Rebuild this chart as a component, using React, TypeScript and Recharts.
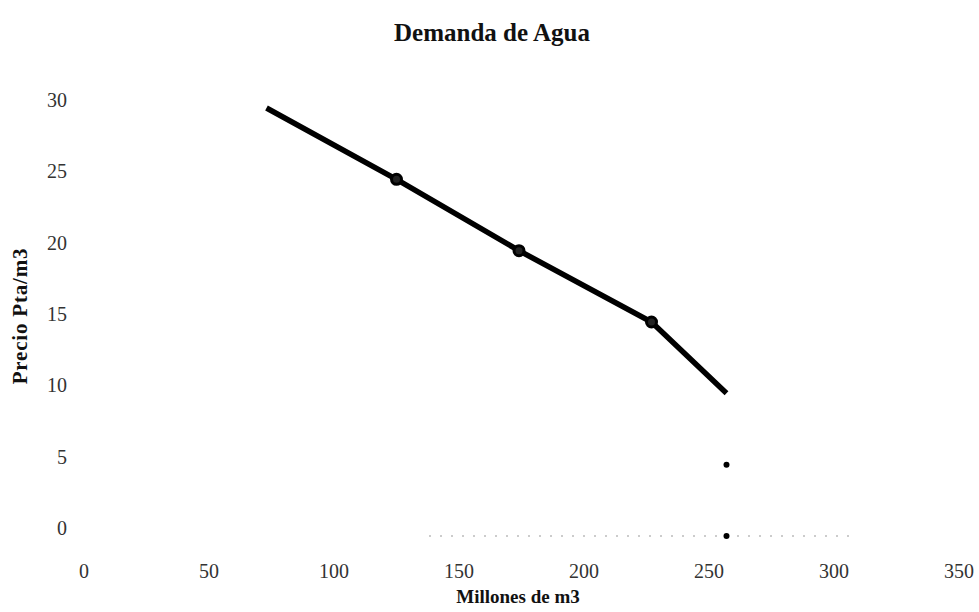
import React from "react"
import { ComposedChart, Line, Scatter, XAxis, YAxis, ReferenceLine } from "recharts"

// demand curve
const cantidades = [73, 125, 174, 227, 257]
const precios = [30, 25, 20, 15, 10]

// loose points under the end of the curve
const sueltosX = [257, 257]
const sueltosY = [5, 0]

const xTicks = [0, 50, 100, 150, 200, 250, 300, 350]
const yTicks = [0, 5, 10, 15, 20, 25, 30]

const titulo = "Demanda de Agua"
const tituloX = "Millones de m3"
const tituloY = "Precio Pta/m3"

const curva = cantidades.map((x, i) => ({ x, y: precios[i] }))
const sueltos = sueltosX.map((x, i) => ({ x, y: sueltosY[i] }))

const FONT = '"Liberation Serif", "Times New Roman", serif'

const YTick = (props: any) => {
  const { x, y, payload } = props
  return (
    <text x={x - 9} y={y - 8} textAnchor="end" dominantBaseline="central" fontFamily={FONT} fontSize={20} fill="#333">
      {payload.value}
    </text>
  )
}

const XTick = (props: any) => {
  const { x, y, payload } = props
  return (
    <text x={x} y={y + 27} textAnchor="middle" dominantBaseline="central" fontFamily={FONT} fontSize={20} fill="#333">
      {payload.value}
    </text>
  )
}

const Marcador = (props: any) => {
  const { cx, cy, index } = props
  // only the inner points carry a marker
  if (index === 0 || index === curva.length - 1) return <g key={`m-${index}`} />
  return <circle key={`m-${index}`} cx={cx} cy={cy} r={5} fill="#222" stroke="#000" strokeWidth={3} />
}

export default function App() {
  return (
    <div style={{ position: "absolute", left: 0, top: 0, width: 979, height: 612, background: "#fff", fontFamily: FONT }}>
      <div
        style={{
          position: "absolute",
          left: 492,
          top: 33,
          transform: "translate(-50%, -50%)",
          fontSize: 25,
          fontWeight: "bold",
          color: "#111",
          whiteSpace: "nowrap",
        }}
      >
        {titulo}
      </div>
      <div
        style={{
          position: "absolute",
          left: 20,
          top: 316,
          transform: "translate(-50%, -50%) rotate(-90deg)",
          fontSize: 21,
          letterSpacing: 0.8,
          fontWeight: "bold",
          color: "#111",
          whiteSpace: "nowrap",
        }}
      >
        {tituloY}
      </div>
      <div
        style={{
          position: "absolute",
          left: 518,
          top: 597,
          transform: "translate(-50%, -50%)",
          fontSize: 19,
          fontWeight: "bold",
          color: "#111",
          whiteSpace: "nowrap",
        }}
      >
        {tituloX}
      </div>
      <ComposedChart width={979} height={612} margin={{ top: 108, right: 20, bottom: 36, left: 24 }}>
        <XAxis
          type="number"
          dataKey="x"
          domain={[0, 350]}
          ticks={xTicks}
          axisLine={false}
          tickLine={false}
          tick={<XTick />}
          height={40}
        />
        <YAxis
          type="number"
          dataKey="y"
          domain={[0, 30]}
          ticks={yTicks}
          axisLine={false}
          tickLine={false}
          tick={<YTick />}
          width={60}
        />
        <ReferenceLine
          segment={[
            { x: 138, y: 0 },
            { x: 306, y: 0 },
          ]}
          stroke="#999"
          strokeWidth={1}
          strokeDasharray="2 9"
        />
        <Line
          data={curva}
          dataKey="y"
          type="linear"
          stroke="#000"
          strokeWidth={5.5}
          dot={Marcador}
          activeDot={false}
          isAnimationActive={false}
        />
        <Scatter
          data={sueltos}
          dataKey="y"
          fill="#000"
          shape={(p: any) => <circle cx={p.cx} cy={p.cy} r={3} fill="#000" />}
          isAnimationActive={false}
        />
      </ComposedChart>
    </div>
  )
}
